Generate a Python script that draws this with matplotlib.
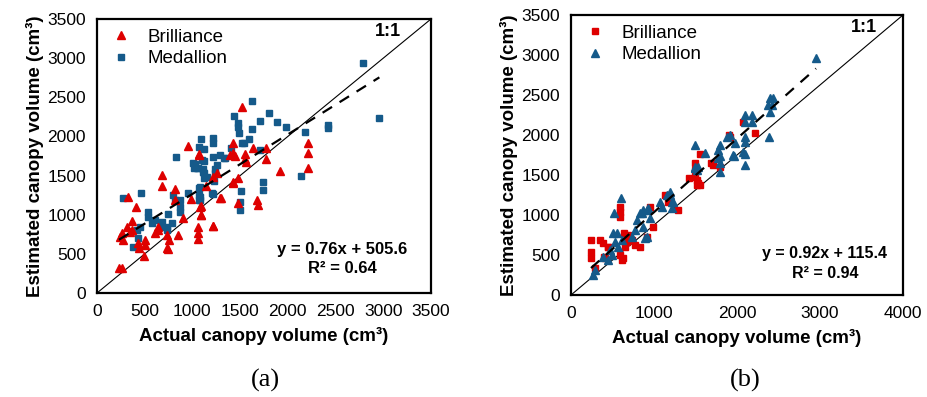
import matplotlib
matplotlib.use("Agg")
import matplotlib.pyplot as plt
import numpy as np

# ---------------- data: panel (a) ----------------
a_bril_x = [230, 259, 678, 685, 328, 405, 818, 818, 985, 1300, 1090, 1090, 905, 1219, 1062, 1062, 1062,
            846, 734, 755, 734, 608, 503, 503, 433, 440, 364, 346, 259, 241, 276, 311, 643, 643, 496, 741,
            370, 1429, 1069, 1517, 1429, 1394, 1429, 1447, 1551, 1551, 1565, 1632, 1771, 1771, 1918, 2215,
            2215, 2215, 1072, 1255, 1220, 1481, 1422, 1143, 1289, 1481, 1674, 1684, 1080, 1087, 1220, 957]
a_bril_y = [315, 315, 1507, 1366, 1230, 1102, 1324, 1188, 1196, 1209, 1111, 996, 954, 856, 839, 762, 686,
            741, 741, 677, 571, 762, 677, 613, 635, 575, 805, 783, 762, 719, 677, 847, 847, 805, 473, 558,
            923, 1401, 1762, 2372, 1912, 1762, 1784, 1750, 1775, 1707, 1677, 1848, 1848, 1707, 1562, 1912,
            1792, 1600, 1775, 1529, 1486, 1465, 1422, 1366, 1209, 1145, 1188, 1124, 1102, 996, 856, 1881]

a_med_x = [828, 276, 461, 381, 433, 538, 538, 608, 573, 451, 416, 678, 678, 730, 730, 748, 783, 800, 818,
           870, 870, 870, 957, 1080, 1080, 1080, 1202, 1010, 1045, 1097, 1115, 1150, 1219, 1289, 1342, 1237,
           1255, 1621, 1436, 1481, 1481, 1806, 1709, 1883, 1981, 1621, 2180, 1492, 1517, 1541, 1597, 1220,
           1220, 1087, 1072, 1122, 1335, 1401, 1709, 1122, 1027, 1017, 1062, 1107, 1122, 1122, 1237, 1226,
           1072, 1072, 1072, 1212, 1737, 1737, 1506, 1499, 1499, 2134, 2784, 2959, 2425, 2425]
a_med_y = [1741, 1217, 1281, 584, 699, 1031, 975, 932, 898, 847, 805, 910, 847, 847, 805, 1009, 890, 1252,
           1188, 1188, 1102, 1038, 1273, 1358, 1230, 1188, 1273, 1656, 1592, 1699, 1549, 1486, 1741, 1762,
           1720, 1529, 1635, 2456, 2261, 2175, 2124, 2303, 2201, 2188, 2124, 2090, 2060, 2040, 1912, 1912,
           1963, 1976, 1920, 1963, 1869, 1835, 1720, 1848, 1826, 1690, 1648, 1592, 1592, 1580, 1529, 1465,
           1580, 1434, 1337, 1252, 1188, 1264, 1422, 1315, 1307, 1166, 1060, 1498, 2933, 2231, 2146, 2103]

# ---------------- data: panel (b) ----------------
b_bril_x = [241, 241, 241, 289, 590, 590, 590, 410, 450, 642, 690, 671, 771, 651, 731, 590, 611, 952, 992,
            912, 1133, 1173, 1293, 1494, 1494, 1494, 1907, 2217, 1554, 1683, 1795, 1425, 1514, 1514, 1554,
            2076, 1534, 1715, 1916, 349, 386, 446, 630, 400, 831]
b_bril_y = [688, 541, 459, 334, 1104, 1041, 979, 459, 604, 771, 750, 666, 625, 604, 688, 500, 438, 1104,
            854, 729, 1250, 1166, 1062, 1646, 1563, 1479, 2000, 2021, 1763, 1646, 1604, 1459, 1438, 1375,
            1375, 2166, 1396, 1625, 1979, 688, 650, 600, 460, 480, 604]

b_med_x = [602, 522, 269, 510, 530, 470, 450, 570, 611, 791, 851, 912, 952, 871, 771, 731, 912, 1092, 1193,
           1213, 1494, 1534, 2398, 2437, 2377, 2398, 2418, 2096, 2177, 2096, 2177, 2096, 2096, 2389, 1494,
           1614, 1795, 1775, 1795, 1775, 1795, 1795, 1876, 1976, 1964, 2096, 2096, 1494, 1514, 1193, 2952,
           1916, 1956, 2076, 289, 389, 490, 550, 831, 871, 931, 892, 1072, 1153, 1233, 1213]
b_med_y = [1209, 1021, 250, 771, 666, 563, 438, 604, 688, 938, 1021, 1062, 958, 854, 813, 729, 729, 1104,
           1250, 1166, 1583, 1604, 2459, 2459, 2375, 2291, 2375, 2250, 2250, 2166, 2166, 1979, 1916, 1979,
           1875, 1779, 1875, 1813, 1738, 1709, 1646, 1541, 1979, 1896, 1738, 1763, 1625, 1604, 1563, 1291,
           2959, 2000, 1750, 1791, 313, 479, 500, 771, 1021, 1062, 1083, 709, 1166, 1250, 1166, 1083]

# trend lines (slope, intercept) and R^2 as displayed
a_fit = (0.76, 505.6, 0.64)
b_fit = (0.92, 115.4, 0.94)

series_names = ["Brilliance", "Medallion"]

RED = "#DE0000"
BLUE = "#155A8A"

plt.rcParams['font.family'] = ['Liberation Sans', 'DejaVu Sans']

fig = plt.figure(figsize=(9.27, 3.97), dpi=100)
ax_a = fig.add_axes([97/927, 1-293/397, 334/927, 274/397])
ax_b = fig.add_axes([571/927, 1-295/397, 332/927, 280/397])


def style(ax, xmax, xstep):
    ax.set_xlim(0, xmax)
    ax.set_ylim(0, 3500)
    ax.set_xticks(np.arange(0, xmax + 1, xstep))
    ax.set_yticks(np.arange(0, 3501, 500))
    ax.tick_params(length=0, labelsize=12.5, pad=8)
    for s in ax.spines.values():
        s.set_linewidth(1.6)
        s.set_color("black")
    ax.plot([0, 1], [0, 1], transform=ax.transAxes, color="black", lw=0.8, zorder=1)
    ax.set_xlabel("Actual canopy volume (cm³)", fontsize=13.5, fontweight="bold", labelpad=6)
    ax.set_ylabel("Estimated canopy volume (cm³)", fontsize=13.5, fontweight="bold", labelpad=2)


def trend(ax, xs, fit):
    m, c, r2 = fit
    x0, x1 = min(xs), max(xs)
    ax.plot([x0, x1], [m * x0 + c, m * x1 + c], color="black", lw=1.6,
            dashes=(5, 4), zorder=4)


# panel a
style(ax_a, 3500, 500)
ax_a.plot(a_bril_x, a_bril_y, ls="none", marker="^", ms=5.8, color=RED, mec=RED,
          label=series_names[0], zorder=3)
ax_a.plot(a_med_x, a_med_y, ls="none", marker="s", ms=4.8, color=BLUE, mec=BLUE,
          label=series_names[1], zorder=2)
trend(ax_a, a_bril_x + a_med_x, a_fit)

# panel b
style(ax_b, 4000, 1000)
ax_b.plot(b_bril_x, b_bril_y, ls="none", marker="s", ms=4.8, color=RED, mec=RED,
          label=series_names[0], zorder=2)
ax_b.plot(b_med_x, b_med_y, ls="none", marker="^", ms=5.8, color=BLUE, mec=BLUE,
          label=series_names[1], zorder=3)
trend(ax_b, b_bril_x + b_med_x, b_fit)

panel_text = [
    # ax, fit, "1:1" pos, eq x, eq y, r2 y, eq fontsize
    (ax_a, a_fit, (0.87, 0.953), 0.734, 0.16, 0.088, 12),
    (ax_b, b_fit, (0.883, 0.954), 0.765, 0.148, 0.075, 11.5),
]
for ax, fit, p11, eqx, eqy, r2y, efs in panel_text:
    ax.legend(loc="upper left", frameon=False, handletextpad=0.6,
              borderaxespad=0.1, labelspacing=0.25, handlelength=1.6,
              bbox_to_anchor=(0.0, 1.0), prop={'size': 13.5})
    m, c, r2 = fit
    ax.text(p11[0], p11[1], "1:1", transform=ax.transAxes, ha="center", va="center",
            fontsize=13, fontweight="bold")
    ax.text(eqx, eqy, f"y = {m:.2f}x + {c:.1f}", transform=ax.transAxes, ha="center",
            va="center", fontsize=efs, fontweight="bold")
    ax.text(eqx, r2y, f"R² = {r2:.2f}", transform=ax.transAxes, ha="center",
            va="center", fontsize=efs, fontweight="bold")

fig.text(265/927, 1-380/397, "(a)", ha="center", va="center", fontsize=19,
         family=['Liberation Serif', 'DejaVu Serif'])
fig.text(745/927, 1-380/397, "(b)", ha="center", va="center", fontsize=19,
         family=['Liberation Serif', 'DejaVu Serif'])

fig.savefig("out.png", dpi=100)
